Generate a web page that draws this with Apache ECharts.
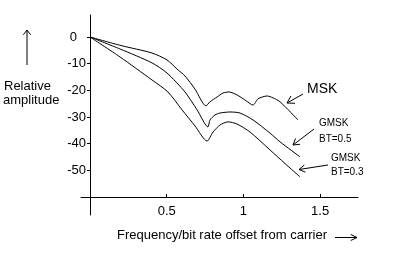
<!DOCTYPE html>
<html lang="en">
  <head>
    <meta charset="UTF-8" />
    <title>MSK / GMSK spectrum</title>
    <script src="https://cdn.jsdelivr.net/npm/echarts@6/dist/echarts.min.js"></script>
    <style>
      html, body { margin: 0; padding: 0; background: #fff; }
      #chart { width: 393px; height: 271px; }
    </style>
  </head>
  <body>
    <div id="chart"></div>
  </body>
</html>
<script>
  // tick labels
  const xTicks = [0.5, 1, 1.5];
  const yTicks = [0, -10, -20, -30, -40, -50];

  // MSK
  const mskFreq = [0, 0.202, 0.404, 0.502, 0.567, 0.619, 0.684, 0.756, 0.782, 0.828, 0.867, 0.906, 0.958, 1.01, 1.063, 1.095, 1.154, 1.193, 1.239, 1.356];
  const mskAmp = [0, -3.2, -6.0, -8.6, -12.0, -14.6, -19.5, -25.8, -24.3, -22.5, -21.0, -20.6, -21.7, -23.6, -25.5, -23.2, -22.1, -22.8, -24.3, -31.1];
  // GMSK BT=0.5
  const gmsk5Freq = [0, 0.196, 0.404, 0.502, 0.619, 0.698, 0.769, 0.782, 0.815, 0.847, 0.913, 0.978, 1.063, 1.173, 1.239, 1.369];
  const gmsk5Amp = [0, -4.5, -9.7, -13.5, -20.6, -27.3, -33.7, -31.1, -29.2, -28.5, -28.1, -28.5, -31.1, -36.0, -39.3, -44.9];
  // GMSK BT=0.3
  const gmsk3Freq = [0, 0.196, 0.404, 0.508, 0.6, 0.684, 0.763, 0.802, 0.847, 0.9, 0.958, 1.043, 1.173, 1.271, 1.369];
  const gmsk3Amp = [0, -7.5, -16.1, -20.6, -27.3, -33.3, -39.0, -35.6, -33.0, -31.8, -32.6, -35.6, -42.3, -47.4, -52.4];

  const font = "'Liberation Sans', Arial, sans-serif";
  const pairs = (xs, ys) => xs.map((x, i) => [x, ys[i]]);

  // open arrow: shaft from (x1,y1) to tip (x2,y2)
  function arrow(x1, y1, x2, y2, len, ang) {
    const a = Math.atan2(y1 - y2, x1 - x2);
    const p1 = [x2 + len * Math.cos(a + ang), y2 + len * Math.sin(a + ang)];
    const p2 = [x2 + len * Math.cos(a - ang), y2 + len * Math.sin(a - ang)];
    const st = { stroke: "#000", lineWidth: 1, fill: null };
    return [
      { type: "polyline", shape: { points: [[x1, y1], [x2, y2]] }, style: st },
      { type: "polyline", shape: { points: [p1, [x2, y2], p2] }, style: st },
    ];
  }
  function label(text, x, y, size) {
    return {
      type: "text",
      style: { text: text, x: x, y: y, font: size + "px " + font, fill: "#000", verticalAlign: "middle" },
    };
  }

  const lineSeries = (name, data) => ({
    name: name,
    type: "line",
    data: data,
    showSymbol: false,
    smooth: 0.25,
    lineStyle: { color: "#000", width: 1 },
    silent: true,
  });

  const chart = echarts.init(document.getElementById("chart"));
  const option = {
    animation: false,
    backgroundColor: "#fff",
    grid: { left: 81, right: 35, top: 15, bottom: 56 },
    xAxis: {
      type: "value",
      min: -0.0587,
      max: 1.747,
      position: "bottom",
      offset: -18, // axis crosses the y axis at -60
      splitLine: { show: false },
      axisLine: { onZero: false, lineStyle: { color: "#000", width: 1 } },
      axisTick: { customValues: xTicks, inside: true, length: 3, lineStyle: { color: "#000" } },
      axisLabel: { customValues: xTicks, margin: 8, color: "#000", fontSize: 13, fontFamily: font },
    },
    yAxis: {
      type: "value",
      min: -66.7,
      max: 8.24,
      position: "left",
      offset: -9, // y axis sits at x = 0
      splitLine: { show: false },
      axisLine: { onZero: false, lineStyle: { color: "#000", width: 1 } },
      axisTick: { customValues: yTicks, length: 3, lineStyle: { color: "#000" } },
      axisLabel: {
        customValues: yTicks,
        margin: 4,
        color: "#000",
        fontSize: 13,
        fontFamily: font,
        formatter: (v) => (v === 0 ? "{z|0}" : String(v)),
        rich: { z: { padding: [0, 9, 0, 0], fontSize: 13, fontFamily: font, color: "#000" } },
      },
    },
    series: [
      lineSeries("MSK", pairs(mskFreq, mskAmp)),
      lineSeries("GMSK BT=0.5", pairs(gmsk5Freq, gmsk5Amp)),
      lineSeries("GMSK BT=0.3", pairs(gmsk3Freq, gmsk3Amp)),
    ],
    graphic: [
      label("Relative", 4, 86, 13),
      label("amplitude", 3, 100, 13),
      ...arrow(27, 65, 27, 30, 6, 0.65),
      label("Frequency/bit rate offset from carrier", 117, 235, 13),
      ...arrow(335, 237.5, 357, 237.5, 7, 0.45),
      label("MSK", 307, 89, 14),
      ...arrow(303, 94, 287, 103, 8, 0.55),
      label("GMSK", 319, 123.5, 10),
      label("BT=0.5", 319, 139, 10),
      ...arrow(314, 129, 293, 145, 7, 0.55),
      label("GMSK", 331, 158, 10),
      label("BT=0.3", 331, 172.5, 10),
      ...arrow(328, 165, 299, 169.5, 7, 0.55),
    ],
  };
  chart.setOption(option);
</script>
